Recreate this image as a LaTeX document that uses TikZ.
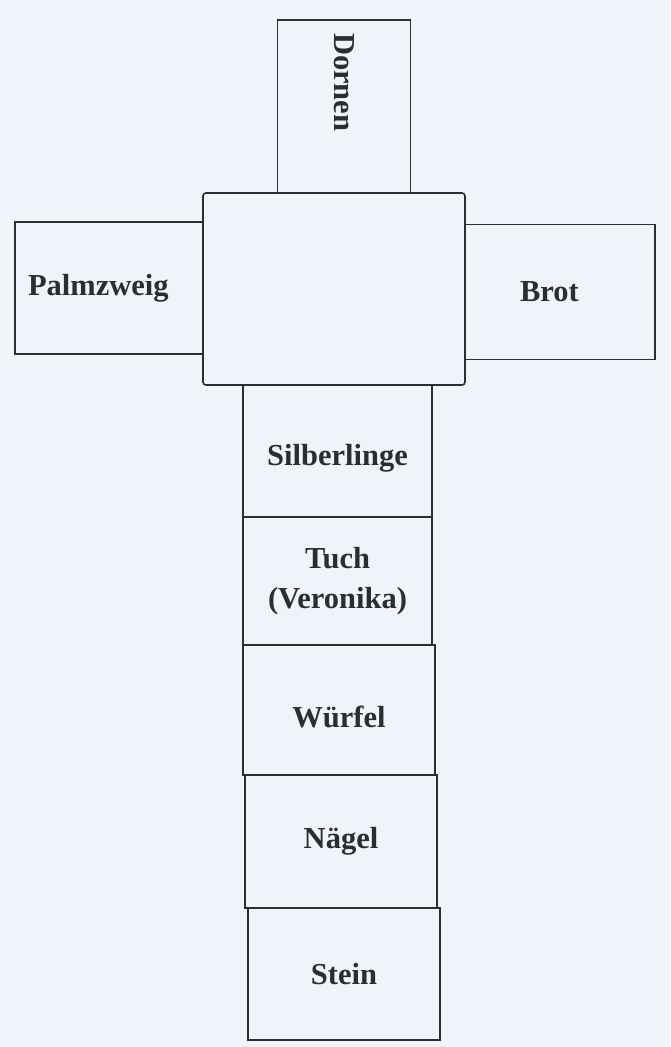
\documentclass[tikz,border=0pt]{standalone}
\usepackage{fontspec}
\setmainfont{Liberation Serif}
\usetikzlibrary{positioning}

\definecolor{paper}{RGB}{239,243,250}
\definecolor{ink}{RGB}{45,45,45}

\tikzset{
    box/.style={draw=ink, line width=1.6pt, rectangle, inner sep=0pt, fill=paper,
        font=\fontsize{30.5}{40}\selectfont\bfseries, text=ink, align=center},
    lowtext/.style={text height=36pt},
}

\begin{document}
\begin{tikzpicture}[x=1pt, y=-1pt]
    % Paper
    \fill[paper] (0,0) rectangle (670,1047);

    % Draw arms
    \node[box, rotate=-90, minimum width=174pt, minimum height=133pt,
        text width=148pt, inner xsep=13pt, align=left] (dornen) at (344,107) {Dornen};
    \node[box, minimum width=190pt, minimum height=132pt,
        text width=164pt, inner xsep=13pt, align=left] (palmzweig) at (110,288) {Palmzweig};
    \node[box, minimum width=190pt, minimum height=135pt,
        text width=80pt, inner xsep=55pt, align=left] (brot) at (560,292) {Brot};
    \node[box, minimum width=262pt, minimum height=192pt, rounded corners=3pt] (mitte) at (334,289) {};

    % Draw column
    \node[box, lowtext, minimum width=189pt, minimum height=132pt] (silberlinge) at (337.5,451) {Silberlinge};
    \node[box, minimum width=189pt, minimum height=128pt] (tuch) at (337.5,581) {Tuch\\(Veronika)};
    \node[box, lowtext, minimum width=192pt, minimum height=130pt] (wuerfel) at (339,710) {Würfel};
    \node[box, minimum width=192pt, minimum height=133pt] (naegel) at (341,841.5) {Nägel};
    \node[box, minimum width=192pt, minimum height=132pt] (stein) at (344,974) {Stein};
\end{tikzpicture}
\end{document}
